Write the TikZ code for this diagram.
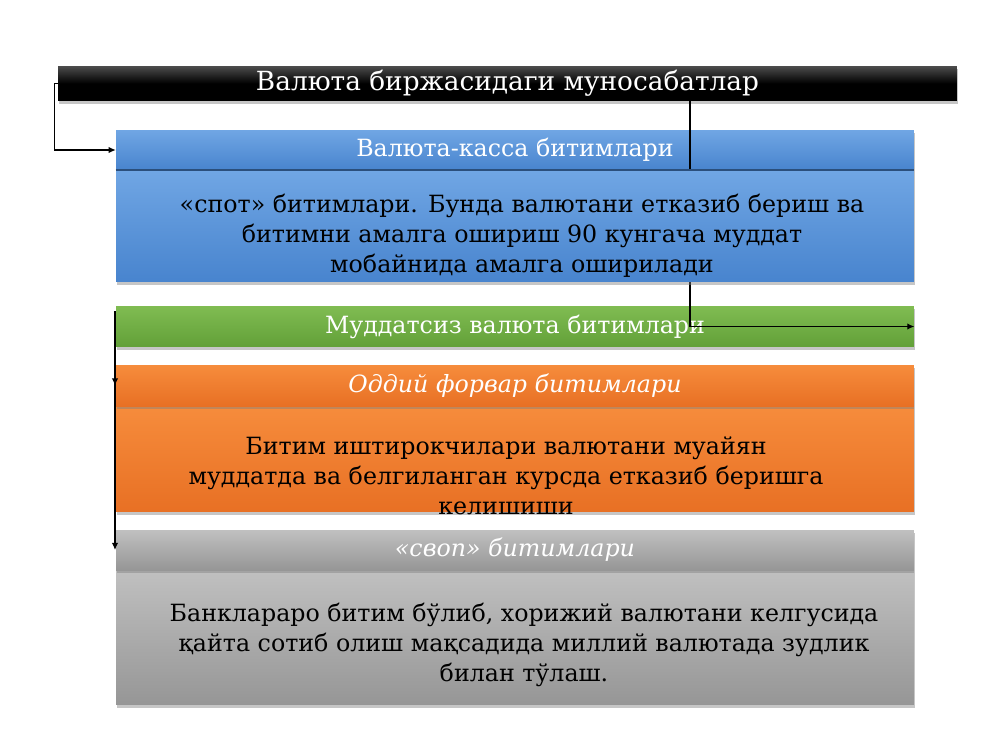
\documentclass[tikz,border=0pt]{standalone}
\usepackage{fontspec}
\setmainfont{DejaVu Serif}
\usetikzlibrary{shadows,arrows.meta}

\definecolor{blueL}{RGB}{112,166,228}
\definecolor{blueD}{RGB}{72,132,206}
\definecolor{greenL}{RGB}{128,188,82}
\definecolor{greenD}{RGB}{98,160,56}
\definecolor{orangeL}{RGB}{246,140,60}
\definecolor{orangeD}{RGB}{232,112,36}
\definecolor{grayL}{RGB}{192,192,192}
\definecolor{grayD}{RGB}{150,150,150}

\tikzset{
  band/.style={minimum width=15.96cm, inner sep=0pt,
    drop shadow={shadow xshift=0.8pt, shadow yshift=-1.8pt, opacity=0.45}},
  hdr/.style={band, minimum height=0.8cm, text=white,
    font=\fontsize{13.5}{16}\selectfont},
  body/.style={band},
  txt/.style={align=center, font=\fontsize{13.5}{17}\selectfont},
  arr/.style={-{Latex[length=4pt,width=3.6pt]}, line width=0.6pt},
}

\begin{document}
\begin{tikzpicture}[x=0.02cm, y=-0.02cm]
                \useasboundingbox (0,0) rectangle (1000,750);
                % title bar
                \node[band, minimum width=17.98cm, minimum height=0.7cm,
                  top color=gray!60!black, bottom color=black, middle color=black,
                  text=white, font=\fontsize{15}{18}\selectfont] (title) at (507.5,83.5)
                  {Валюта биржасидаги муносабатлар};
                % blue header
                \node[hdr, top color=blueL, bottom color=blueD] (kassaH) at (515,150)
                  {Валюта-касса битимлари};
                % green
                \node[hdr, minimum height=0.82cm, top color=greenL, bottom color=greenD] (muddat) at (515,326.5)
                  {Муддатсиз валюта битимлари};
                % orange
                \node[body, minimum height=2.12cm, top color=orangeL, bottom color=orangeD] (forwB) at (515,459) {};
                \node[hdr, minimum height=0.82cm, top color=orangeL, bottom color=orangeD,
                  font=\fontsize{13.5}{16}\selectfont\itshape] (forwH) at (515,385.5)
                  {Оддий форвар битимлари};
                \node[txt] (forwT) at (506,476)
                  {Битим иштирокчилари валютани муайян\\
                   муддатда ва белгиланган курсда етказиб беришга\\
                   келишиши};
                % gray
                \node[body, minimum height=2.7cm, top color=grayL, bottom color=grayD] (swopB) at (515,637.5) {};
                \node[hdr, top color=grayL, bottom color=grayD,
                  font=\fontsize{13.5}{16}\selectfont\itshape] (swopH) at (515,550)
                  {«своп» битимлари};
                \node[txt] (swopT) at (524,645)
                  {Банклараро битим бўлиб, хорижий валютани келгусида\\
                   қайта сотиб олиш мақсадида миллий валютада зудлик\\
                   билан тўлаш.};
                % connectors
                \coordinate (tap) at (690,101);
                \coordinate (lft) at (115,311);
                \draw[arr] (title.west) -- ++(-3,0) |- (kassaH.west);
                \draw[arr] (tap) |- (muddat.east);
                \draw[arr] (lft) -- (lft |- forwH.west);
                \draw[arr] (lft) -- (lft |- swopH.west);
                % blue body over the line
                \node[body, minimum height=2.24cm, top color=blueL, bottom color=blueD] (kassaB) at (515,226) {};
                \draw[blueD!60!black, line width=1pt] (kassaB.north west) -- (kassaB.north east);
                \node[txt] (kassaT) at (522,236)
                  {«спот» битимлари. Бунда валютани етказиб бериш ва\\
                   битимни амалга ошириш 90 кунгача муддат\\
                   мобайнида амалга оширилади};
            \end{tikzpicture}
\end{document}
